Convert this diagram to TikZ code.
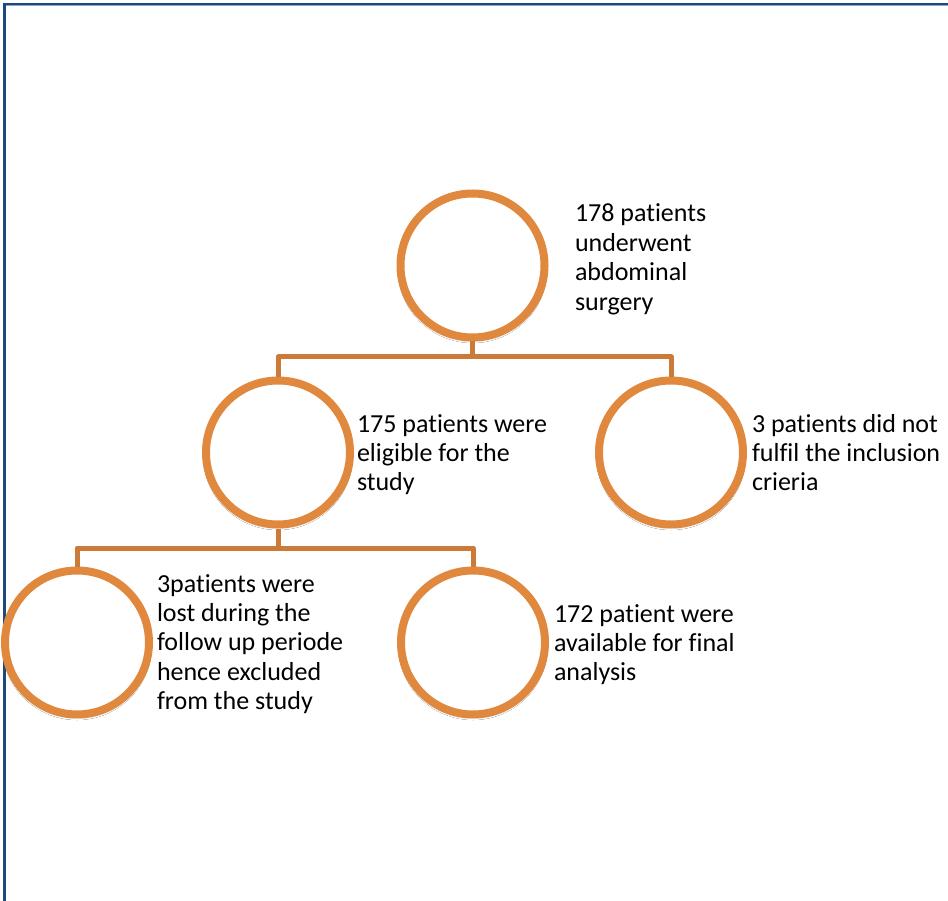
\documentclass[tikz,border=0pt]{standalone}
\usepackage{fontspec}
\setmainfont{Carlito}[Ligatures=NoCommon]
\usetikzlibrary{shadows.blur}
\definecolor{circorange}{RGB}{224,137,62}
\definecolor{lineorange}{RGB}{203,122,56}
\definecolor{frameblue}{RGB}{31,73,125}
\definecolor{framelight}{RGB}{140,165,200}
\tikzset{
  circnode/.style={circle, draw=circorange, line width=8pt, fill=white,
    minimum size=144pt, inner sep=0pt,
    blur shadow={shadow xshift=0pt, shadow yshift=-2.5pt, shadow blur steps=6, shadow opacity=25, shadow blur radius=3pt}},
  conn/.style={draw=lineorange, line width=5pt, line join=round},
  lbl/.style={anchor=base west, align=left, inner sep=0pt, outer sep=0pt,
    font=\fontsize{26}{29.4}\selectfont, text=black}
}
\begin{document}
\begin{tikzpicture}[x=1pt,y=-1pt]
\useasboundingbox (0,0) rectangle (948,901);
\fill[white] (0,0) rectangle (948,901);
% frame
\draw[framelight, line width=1pt] (5,5.6) -- (948,5.6);
\draw[frameblue, line width=2.4pt] (4,901) -- (4,3.8) -- (948,3.8);
\draw[frameblue, line width=2.6pt] (4.3,4) -- (4.3,901);
% junctions
\coordinate (j1) at (472.5,357);
\coordinate (j2) at (278,548);
% circles
\node[circnode] (n1) at (472.5,265.5) {};
\node[circnode] (n2) at (278,452.5) {};
\node[circnode] (n3) at (671,452.5) {};
\node[circnode] (n4) at (77,642.5) {};
\node[circnode] (n5) at (473,642.5) {};
% connectors
\draw[conn] (n1.south) -- (j1);
\draw[conn] (n2.north) |- (j1) -| (n3.north);
\draw[conn] (n2.south) -- (j2);
\draw[conn] (n4.north) |- (j2) -| (n5.north);
% labels (anchored at the baseline of the last line)
\node[lbl] (t1) at (575,310.2) {178 patients\\underwent\\abdominal\\surgery};
\node[lbl] (t2) at (357,490.8) {175 patients were\\eligible for the\\study};
\node[lbl] (t3) at (752,490.8) {3 patients did not\\fulfil the inclusion\\crieria};
\node[lbl] (t4) at (157,709.6) {3patients were\\lost during the\\follow up periode\\hence excluded\\from the study};
\node[lbl] (t5) at (554,680.8) {172 patient were\\available for final\\analysis};
\end{tikzpicture}
\end{document}
